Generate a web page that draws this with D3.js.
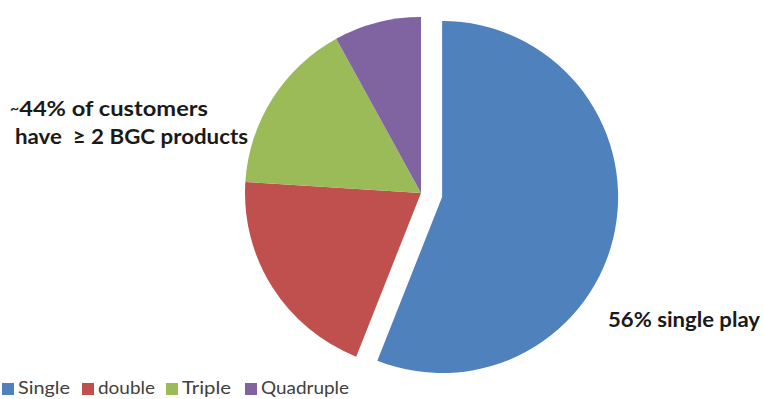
<!DOCTYPE html>
<html>
<head>
<meta charset="utf-8">
<script src="https://cdn.jsdelivr.net/npm/d3@7"></script>
<style>
  html, body { margin: 0; padding: 0; background: #fff; }
  svg { display: block; }
  text { white-space: pre; }
</style>
</head>
<body>
<svg id="chart" width="763" height="399"></svg>
<script>
// Share of customers by number of BGC products held
const categories = ["Single", "double", "Triple", "Quadruple"];
const shares = [56, 20, 16, 8];
const colors = ["#4F81BD", "#C0504D", "#9BBB59", "#8064A2"];
const explodedCategory = "Single";

const svg = d3.select("#chart");
const cx = 421, cy = 193, radius = 176, explodeOffset = 21.5;

const pie = d3.pie().sort(null).value(d => d.value);
const arc = d3.arc().innerRadius(0).outerRadius(radius);
const data = categories.map((c, i) => ({ name: c, value: shares[i], color: colors[i] }));

const g = svg.append("g").attr("transform", `translate(${cx},${cy})`);
g.selectAll("path")
  .data(pie(data))
  .join("path")
  .attr("d", arc)
  .attr("fill", d => d.data.color)
  .attr("transform", d => {
    if (d.data.name !== explodedCategory) return null;
    const mid = (d.startAngle + d.endAngle) / 2;
    return `translate(${Math.sin(mid) * explodeOffset},${-Math.cos(mid) * explodeOffset})`;
  });

// Annotations
const font = "Lato, 'Open Sans', sans-serif";
function label(x, y, len) {
  return svg.append("text")
    .attr("x", x).attr("y", y)
    .attr("font-family", font)
    .attr("font-weight", "bold")
    .attr("font-size", 21)
    .attr("fill", "#1a1a1a")
    .attr("textLength", len)
    .attr("lengthAdjust", "spacingAndGlyphs");
}
const t1 = label(10, 116, 198);
t1.append("tspan").attr("font-size", 14).attr("dy", -3).text("~");
t1.append("tspan").attr("dy", 3).text("44% of customers");
label(15, 144, 233).text("have  \u2265 2 BGC products");
label(608, 327, 152).text("56% single play");

// Legend
const legendX = [2, 82, 166, 245];
const legendTextLen = [52, 57, 49, 88];
const legend = svg.append("g");
categories.forEach((c, i) => {
  legend.append("rect")
    .attr("x", legendX[i]).attr("y", 383)
    .attr("width", 12).attr("height", 12)
    .attr("fill", colors[i]);
  legend.append("text")
    .attr("x", legendX[i] + 16).attr("y", 394)
    .attr("font-family", font)
    .attr("font-size", 17)
    .attr("fill", "#404040")
    .attr("textLength", legendTextLen[i])
    .attr("lengthAdjust", "spacingAndGlyphs")
    .text(c);
});
</script>
</body>
</html>
